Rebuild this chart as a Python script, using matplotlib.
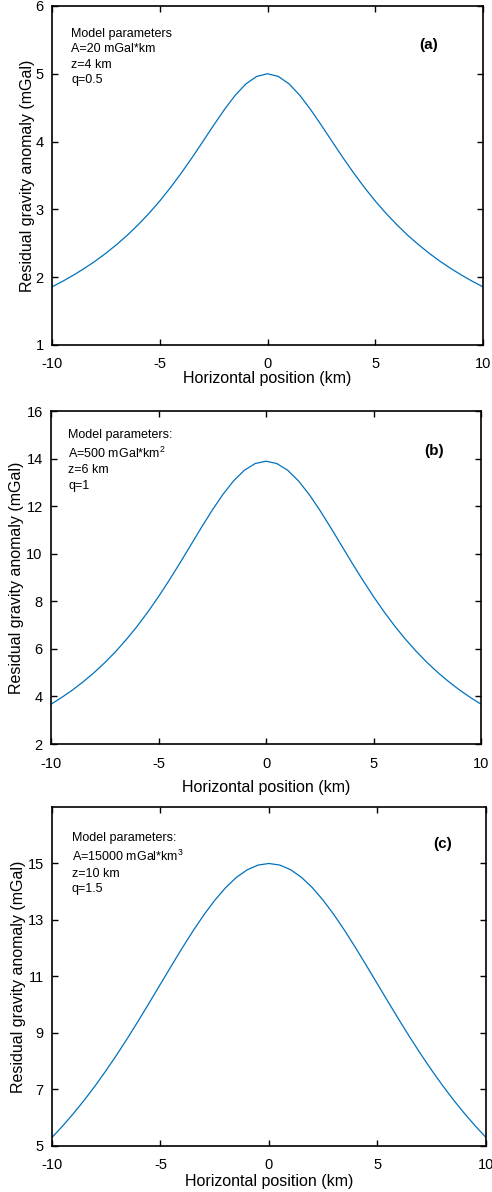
import matplotlib
matplotlib.use('Agg')
import matplotlib.pyplot as plt

plt.rcParams['font.family'] = ['Liberation Sans', 'DejaVu Sans']
plt.rcParams['mathtext.default'] = 'regular'
plt.rcParams['axes.unicode_minus'] = False

# Horizontal positions (km)
x_km = [-10, -9.5, -9, -8.5, -8, -7.5, -7, -6.5, -6, -5.5, -5, -4.5, -4, -3.5, -3, -2.5, -2, -1.5, -1, -0.5,
        0, 0.5, 1, 1.5, 2, 2.5, 3, 3.5, 4, 4.5, 5, 5.5, 6, 6.5, 7, 7.5, 8, 8.5, 9, 9.5, 10]

# Residual gravity anomaly (mGal)
g_a = [1.857, 1.940, 2.031, 2.129, 2.236, 2.353, 2.481, 2.620, 2.774, 2.941, 3.123, 3.322, 3.536, 3.763,
       4.000, 4.240, 4.472, 4.682, 4.851, 4.961, 5.000, 4.961, 4.851, 4.682, 4.472, 4.240, 4.000, 3.763,
       3.536, 3.322, 3.123, 2.941, 2.774, 2.620, 2.481, 2.353, 2.236, 2.129, 2.031, 1.940, 1.857]
g_b = [3.676, 3.960, 4.274, 4.619, 5.000, 5.420, 5.882, 6.390, 6.944, 7.547, 8.197, 8.889, 9.615, 10.363,
       11.111, 11.834, 12.500, 13.072, 13.514, 13.793, 13.889, 13.793, 13.514, 13.072, 12.500, 11.834,
       11.111, 10.363, 9.615, 8.889, 8.197, 7.547, 6.944, 6.390, 5.882, 5.420, 5.000, 4.619, 4.274, 3.960, 3.676]
g_c = [5.303, 5.716, 6.160, 6.635, 7.142, 7.680, 8.247, 8.841, 9.458, 10.091, 10.733, 11.375, 12.006, 12.613,
       13.181, 13.696, 14.143, 14.508, 14.778, 14.944, 15.000, 14.944, 14.778, 14.508, 14.143, 13.696,
       13.181, 12.613, 12.006, 11.375, 10.733, 10.091, 9.458, 8.841, 8.247, 7.680, 7.142, 6.635, 6.160, 5.716, 5.303]

params_a = 'Model parameters\nA=20 mGal*km\nz=4 km\nq=0.5'
params_b = 'Model parameters:\nA=500 mGal*km$^{2}$\nz=6 km\nq=1'
params_c = 'Model parameters:\nA=15000 mGal*km$^{3}$\nz=10 km\nq=1.5'

fig = plt.figure(figsize=(4.92, 11.92), dpi=100)

# rect, data, ylim, yticks, text, tag, tag pos, ylabel pad, xlabel pad, text top, text left
panels = [
    ([0.1057, 0.7106, 0.876, 0.2844], g_a, (1, 6), [1, 2, 3, 4, 5, 6], params_a, '(a)', (0.875, 0.885), 0.5, 0, 0.935, 0.045),
    ([0.1037, 0.3758, 0.874, 0.2794], g_b, (2, 16), [2, 4, 6, 8, 10, 12, 14, 16], params_b, '(b)', (0.89, 0.88), 2, 7, 0.946, 0.04),
    ([0.1057, 0.0386, 0.882, 0.2844], g_c, (5, 17), [5, 7, 9, 11, 13, 15], params_c, '(c)', (0.90, 0.89), 1, 1, 0.925, 0.045),
]

for rect, g, ylim, yticks, params, tag, tagpos, ypad, xpad, ttop, tleft in panels:
    ax = fig.add_axes(rect)
    ax.plot(x_km, g, color='#0072BD', lw=0.9)
    ax.set_xlim(-10, 10)
    ax.set_ylim(*ylim)
    ax.set_xticks([-10, -5, 0, 5, 10])
    ax.set_yticks(yticks)
    ax.tick_params(direction='in', length=4, width=1, labelsize=10.5, top=True, right=True)
    ax.tick_params(axis='x', pad=9)
    ax.tick_params(axis='y', pad=6)
    for s in ax.spines.values():
        s.set_linewidth(1.2)
    ax.set_xlabel('Horizontal position (km)', fontsize=11.5, labelpad=xpad)
    ax.set_ylabel('Residual gravity anomaly (mGal)', fontsize=11.5, labelpad=ypad)
    ax.text(tleft, ttop, params, transform=ax.transAxes, fontsize=9, va='top', ha='left', linespacing=1.38)
    ax.text(tagpos[0], tagpos[1], tag, transform=ax.transAxes, fontsize=11, fontweight='bold', ha='center', va='center')

fig.savefig('out.png', dpi=100)
